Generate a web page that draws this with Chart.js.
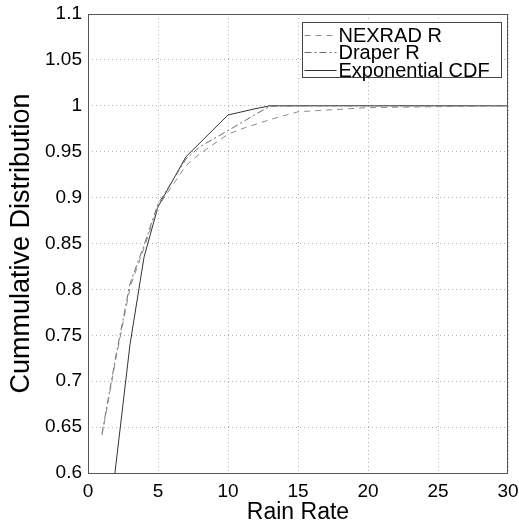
<!DOCTYPE html>
<html>
<head>
<meta charset="utf-8">
<script src="https://cdn.jsdelivr.net/npm/chart.js@4.4.0/dist/chart.umd.min.js"></script>
<style>
  html, body { margin: 0; padding: 0; background: #fff; }
</style>
</head>
<body>
<canvas id="cdfChart" width="519" height="524"></canvas>
<script>
// values
const rainRate = [1, 2, 3, 4, 5, 7, 8, 10, 11, 12, 13, 15, 20, 25, 30]
const nexradR = [0.641, 0.725, 0.802, 0.845, 0.89, 0.935, 0.948, 0.969, 0.975, 0.98, 0.985, 0.9935, 0.998, 0.999, 1.0]
const draperR = [0.643, 0.728, 0.806, 0.848, 0.893, 0.942, 0.9555, 0.973, 0.982, 0.991, 0.9995, 1.0, 1.0, 1.0, 1.0]
const exponentialCdf = [0.48, 0.61, 0.74, 0.835, 0.89, 0.9446, 0.9597, 0.99, 0.9935, 0.997, 1.0, 1.0, 1.0, 1.0, 1.0]
const seriesNames = ['NEXRAD R', 'Draper R', 'Exponential CDF']

const fontFamily = "'Liberation Sans', Arial, Helvetica, sans-serif"
Chart.defaults.font.family = fontFamily
Chart.defaults.color = '#000'

function toPoints(ys) {
  var pts = []
  for (var i = 0; i < rainRate.length; i++) {
    pts.push({ x: rainRate[i], y: ys[i] })
  }
  return pts
}

// box around plot + legend in the upper right (matlab style)
const boxLegend = {
  id: 'boxLegend',
  afterDraw(chart) {
    const ctx = chart.ctx
    const a = chart.chartArea
    ctx.save()
    ctx.strokeStyle = '#555'
    ctx.lineWidth = 1
    ctx.setLineDash([])
    ctx.strokeRect(Math.round(a.left) + 0.5, Math.round(a.top) + 0.5,
      Math.round(a.right - a.left) - 1, Math.round(a.bottom - a.top))

    const w = 199, h = 55
    const lx = Math.round(a.right) - 7 - w + 0.5
    const ly = Math.round(a.top) + 8 + 0.5
    ctx.fillStyle = '#fff'
    ctx.fillRect(lx, ly, w, h)
    ctx.strokeStyle = '#444'
    ctx.strokeRect(lx, ly, w, h)

    ctx.font = '20px ' + fontFamily
    ctx.textBaseline = 'middle'
    ctx.textAlign = 'left'
    chart.data.datasets.forEach(function (ds, i) {
      const y = Math.round(ly + 12 + i * 17.5) + 0.5
      ctx.strokeStyle = ds.borderColor
      ctx.setLineDash(ds.borderDash || [])
      ctx.beginPath()
      ctx.moveTo(lx + 2, y)
      ctx.lineTo(lx + 34, y)
      ctx.stroke()
      ctx.fillStyle = '#000'
      ctx.fillText(ds.label, lx + 36, y + 1)
    })
    ctx.restore()
  }
}

var ctx = document.getElementById('cdfChart')
var cdfChart = new Chart(ctx, {
  type: 'line',
  data: {
    datasets: [{
      label: seriesNames[0],
      data: toPoints(nexradR),
      borderColor: '#8c8c8c',
      borderDash: [6, 5],
      borderWidth: 1,
      pointRadius: 0,
      tension: 0,
      fill: false,
    }, {
      label: seriesNames[1],
      data: toPoints(draperR),
      borderColor: '#6a6a6a',
      borderDash: [7, 3, 2, 3],
      borderWidth: 1,
      pointRadius: 0,
      tension: 0,
      fill: false,
    }, {
      label: seriesNames[2],
      data: toPoints(exponentialCdf),
      borderColor: '#333',
      borderWidth: 1,
      pointRadius: 0,
      tension: 0,
      fill: false,
    }]
  },
  options: {
    responsive: false,
    animation: false,
    layout: { padding: { top: 14, right: 11, left: 0, bottom: 0 } },
    plugins: {
      legend: { display: false },
      tooltip: { enabled: false },
    },
    scales: {
      x: {
        type: 'linear',
        min: 0,
        max: 30,
        ticks: { stepSize: 5, padding: 7, font: { size: 19 }, maxRotation: 0 },
        grid: { color: '#b4b4b4', drawTicks: false },
        border: { display: false, dash: [1, 3] },
        title: { display: true, text: 'Rain Rate', font: { size: 23, lineHeight: 1 }, padding: { top: 0, bottom: 0 } },
        afterFit: function (scale) {
          scale.height = 51
          scale.paddingLeft = 0
          scale.paddingRight = 0
        },
      },
      y: {
        type: 'linear',
        min: 0.6,
        max: 1.1,
        ticks: {
          stepSize: 0.05,
          padding: 6,
          font: { size: 19 },
          callback: function (v) { return String(parseFloat(v.toFixed(2))) },
        },
        grid: { color: '#b4b4b4', drawTicks: false },
        border: { display: false, dash: [1, 3] },
        title: {
          display: true,
          text: 'Cummulative Distribution',
          font: { size: 27, lineHeight: 1 },
          padding: { top: 8, bottom: 0 },
        },
        afterFit: function (scale) {
          scale.width = 88
          scale.paddingTop = 0
          scale.paddingBottom = 0
        },
      }
    }
  },
  plugins: [boxLegend]
})
</script>
</body>
</html>
